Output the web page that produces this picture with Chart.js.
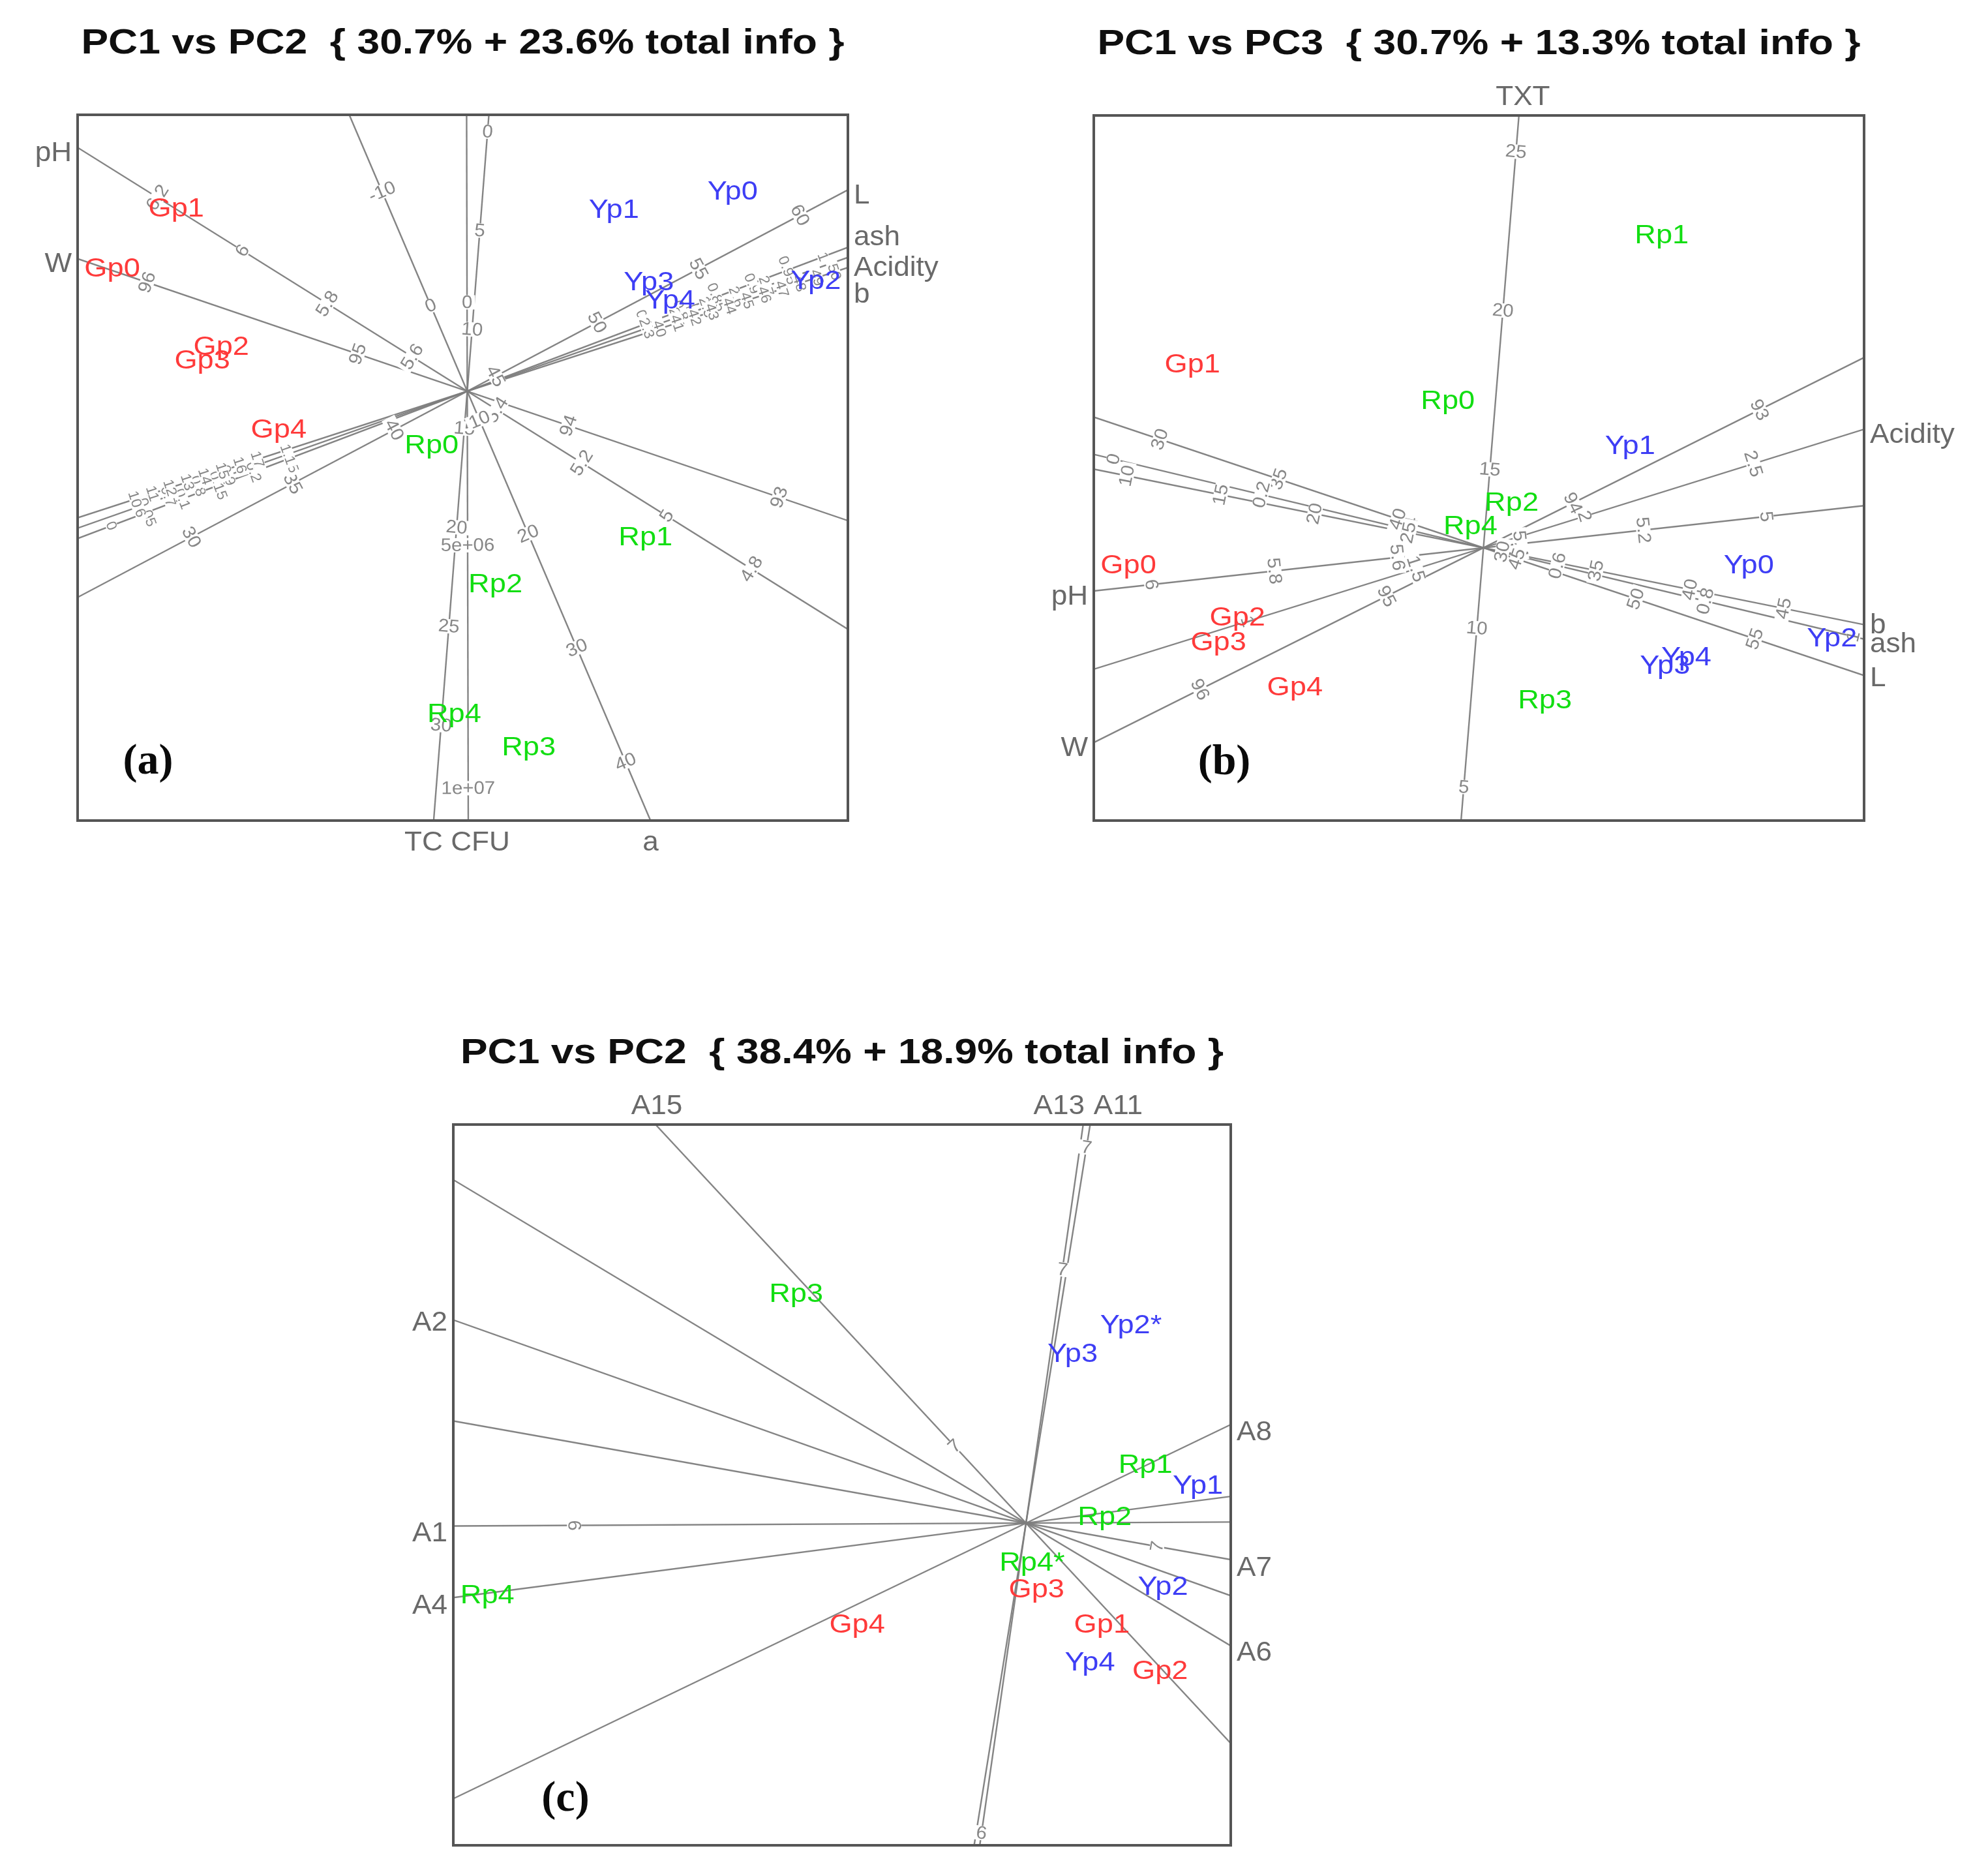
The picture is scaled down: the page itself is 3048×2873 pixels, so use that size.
<!DOCTYPE html>
<html><head><meta charset="utf-8">
<script src="https://cdn.jsdelivr.net/npm/chart.js@4.4.0/dist/chart.umd.min.js"></script>
<style>
html,body{margin:0;padding:0;background:#fff;}
body{width:3048px;height:2873px;position:relative;overflow:hidden;}
canvas{position:absolute;}
</style></head><body>
<canvas id="ca" width="1540" height="1400" style="left:0px;top:0px"></canvas>
<canvas id="cb" width="1508" height="1400" style="left:1540px;top:0px"></canvas>
<canvas id="cc" width="1700" height="1423" style="left:500px;top:1450px"></canvas>
<script>
// ---------------- DATA ----------------
const titleA = 'PC1 vs PC2  { 30.7% + 23.6% total info }';
const titleB = 'PC1 vs PC3  { 30.7% + 13.3% total info }';
const titleC = 'PC1 vs PC2  { 38.4% + 18.9% total info }';

const samplesAB = ['Gp0','Gp1','Gp2','Gp3','Gp4','Rp0','Rp1','Rp2','Rp3','Rp4','Yp0','Yp1','Yp2','Yp3','Yp4'];
const pc1AB = [-2.80,-2.295,-1.94,-2.09,-1.487,-0.281,1.406,0.222,0.485,-0.103,2.093,1.157,2.749,1.432,1.60];
const pc2A  = [0.96,1.435,0.345,0.235,-0.31,-0.435,-1.16,-1.53,-2.815,-2.55,1.567,1.425,0.865,0.855,0.71];
const pc3B  = [-0.145,1.44,-0.557,-0.752,-1.107,1.15,2.46,0.35,-1.21,0.166,-0.145,0.796,-0.719,-0.937,-0.868];

const samplesC = ['Rp3','Yp2*','Yp3','Rp1','Yp1','Rp2','Rp4*','Gp3','Yp2','Rp4','Gp4','Gp1','Yp4','Gp2'];
const pc1C = [-1.813,0.828,0.368,0.942,1.356,0.621,0.048,0.083,1.08,-4.248,-1.332,0.598,0.504,1.058];
const pc2C = [1.801,1.552,1.328,0.452,0.286,0.043,-0.318,-0.528,-0.508,-0.575,-0.806,-0.806,-1.105,-1.171];

// biplot variable axes, panel (a)
const varsA  = ['pH','W','L','ash','Acidity','b','TXT','TC CFU','a'];
const loadAx = [-3.073,-3.073,3.002,3.002,3.002,3.002,-0.265,0.008,1.445];
const loadAy = [1.922,1.045,1.588,1.135,1.055,0.975,-3.385,-3.386,-3.385];
const meanA  = [5.47,94.48,43.6,0.5,1.7,29,13.12,1.83e6,7.5];
const unitA  = [3.947,1.755,0.181,6,2.5,0.145,0.1565,3.832e-7,0.0978];
const ticksA = [
  [6.2,6,5.8,5.6,5.4,5.2,5,4.8],
  [96,95,94,93],
  [30,35,40,45,50,55,60],
  [0,0.05,0.1,0.15,0.2,0.25,0.75,0.8,0.85,0.9,0.95,1],
  [0.6,0.7,0.8,0.9,1,1.1,2.3,2.4,2.5,2.6,2.7],
  [10,11,12,13,14,15,16,17,40,41,42,43,44,45,46,47,48,49,50],
  [0,5,10,15,20,25,30,35],
  [0,5e6,1e7],
  [-10,0,10,20,30,40]
];

// panel (b)
const varsB  = ['TXT','W','pH','Acidity','L','ash','b'];
const loadBx = [0.28,-3.073,-3.073,3.002,3.002,3.002,3.002];
const loadBy = [3.41,-1.536,-0.34,0.935,-1.007,-0.72,-0.606];
const meanB  = [12.53,94.48,5.46,1.7,43.6,0.5,29];
const unitB  = [0.2514,1.644,4.88,2.786,0.198,6,0.151];
const ticksB = [
  [5,10,15,20,25],
  [96,95,94,93],
  [6,5.8,5.6,5.4,5.2,5],
  [1,1.5,2,2.5],
  [30,35,40,45,50,55],
  [0,0.2,0.4,0.6,0.8,1],
  [10,15,20,25,30,35,40,45]
];

// panel (c)
const varsC  = ['A1','A2','A4','A6','A7','A8','A11','A13','A15'];
const loadCx = [-4.517,-4.517,-4.517,1.615,1.615,1.615,0.506,0.451,-2.922];
const loadCy = [-0.023,1.602,-0.588,-0.968,-0.288,0.777,3.143,3.143,3.143];
const meanC  = [3.03,0,0,0,6.125,0,4.5,6.55,6.31];
const unitC  = [1.2,1,1,1,1.2,1,1.2,4.49,1.2];
const ticksC = [[6],[],[],[],[7],[],[7],[7,6],[7]];

// ---------------- LAYOUT / STYLE ----------------
const groupColor = {G:'rgb(255,58,58)', R:'rgb(18,222,18)', Y:'rgb(62,62,245)'};
const LINE_COLOR = 'rgba(125,125,125,0.95)';
const TICK_COLOR = 'rgb(135,135,135)';
const NAME_COLOR = 'rgb(105,105,105)';

const panels = [
  {canvas:'ca', title:titleA, letter:'(a)', letterOff:[108,-89],
   pad:{left:119,top:176,right:240,bottom:142}, xr:[-3.073,3.002], yr:[-3.386,2.18],
   names:samplesAB, px:pc1AB, py:pc2A,
   vars:varsA, lx:loadAx, ly:loadAy, mean:meanA, unit:unitA, ticks:ticksA,
   nudge:{ash:[0,-24],Acidity:[0,8],b:[0,33],'TC CFU':[-17,0]}, hide:['TXT'], denseFont:{ash:1,Acidity:1,b:1}},
  {canvas:'cb', title:titleB, letter:'(b)', letterOff:[200,-88],
   pad:{left:137,top:177,right:190,bottom:142}, xr:[-3.073,3.002], yr:[-2.151,3.41],
   names:samplesAB, px:pc1AB, py:pc3B,
   vars:varsB, lx:loadBx, ly:loadBy, mean:meanB, unit:unitB, ticks:ticksB,
   nudge:{TXT:[6,0],b:[0,-7],L:[0,-4]}, hide:[], denseFont:{}},
  {canvas:'cc', title:titleC, letter:'(c)', letterOff:[172,-70],
   pad:{left:195,top:274,right:313,bottom:44}, xr:[-4.517,1.615], yr:[-2.541,3.143],
   names:samplesC, px:pc1C, py:pc2C,
   vars:varsC, lx:loadCx, ly:loadCy, mean:meanC, unit:unitC, ticks:ticksC,
   nudge:{A2:[0,-4],A1:[0,3],A4:[0,4],A8:[0,3],A7:[0,4],A6:[0,2],A15:[2,0],A13:[-37,0],A11:[43,0]}, hide:[], denseFont:{}}
];

function clipT(ux, uy, xr, yr){
  const pos=[], neg=[];
  if (ux>0){pos.push(xr[1]/ux); neg.push(xr[0]/ux);} else if (ux<0){pos.push(xr[0]/ux); neg.push(xr[1]/ux);}
  if (uy>0){pos.push(yr[1]/uy); neg.push(yr[0]/uy);} else if (uy<0){pos.push(yr[0]/uy); neg.push(yr[1]/uy);}
  return [Math.max(...neg), Math.min(...pos)];
}
function fmt(v){
  if (Math.abs(v)>=1e5){
    const e=Math.floor(Math.log10(Math.abs(v)));
    const m=Math.round(v/Math.pow(10,e)*100)/100;
    return m+'e+'+String(e).padStart(2,'0');
  }
  return String(v);
}
function sText(ctx, txt, x, y, align, baseline, font, color, sx){
  ctx.save(); ctx.translate(x,y); ctx.scale(sx,1);
  ctx.font=font; ctx.textAlign=align; ctx.textBaseline=baseline; ctx.fillStyle=color;
  ctx.fillText(txt,0,0); ctx.restore();
}

function build(P){
  const ux=[], uy=[];
  P.lx.forEach((d,i)=>{const L=Math.hypot(P.lx[i],P.ly[i]); ux.push(P.lx[i]/L); uy.push(P.ly[i]/L);});
  const ends = ux.map((u,i)=>clipT(ux[i],uy[i],P.xr,P.yr));
  const datasets = P.vars.map((v,i)=>({
    type:'line', label:v,
    data:[{x:ends[i][0]*ux[i], y:ends[i][0]*uy[i]},{x:ends[i][1]*ux[i], y:ends[i][1]*uy[i]}],
    borderColor:LINE_COLOR, borderWidth:2.4, pointRadius:0, fill:false, tension:0, showLine:true
  }));
  datasets.push({type:'scatter', label:'samples',
    data:P.names.map((n,i)=>({x:P.px[i], y:P.py[i]})), pointRadius:0, pointHoverRadius:0});

  const plugin = {
    id:'biplot_'+P.canvas,
    afterDraw(chart){
      const ctx=chart.ctx, xs=chart.scales.x, ys=chart.scales.y, ca=chart.chartArea;
      const pix=(x,y)=>[xs.getPixelForValue(x), ys.getPixelForValue(y)];
      // tick labels
      P.vars.forEach((v,i)=>{
        const o=pix(0,0), e=pix(ux[i],uy[i]);
        let th=Math.atan2(e[1]-o[1], e[0]-o[0]);
        let rot=th+Math.PI/2;
        while (rot>Math.PI/2) rot-=Math.PI;
        while (rot<=-Math.PI/2) rot+=Math.PI;
        const dense = P.denseFont[v];
        const font = dense ? '22px "Liberation Sans"' : '28px "Liberation Sans"';
        P.ticks[i].forEach(tv=>{
          const t=(tv-P.mean[i])*P.unit[i];
          if (t<ends[i][0]||t>ends[i][1]) return;
          const p=pix(t*ux[i], t*uy[i]);
          const s=fmt(tv);
          ctx.save(); ctx.translate(p[0],p[1]); ctx.rotate(rot); ctx.scale(1.05,1);
          ctx.font=font; ctx.textAlign='center'; ctx.textBaseline='middle';
          const w=ctx.measureText(s).width;
          const h = dense?18:22;
          ctx.fillStyle='#fff'; ctx.fillRect(-w/2-4,-h/2,w+8,h);
          ctx.fillStyle=TICK_COLOR; ctx.fillText(s,0,1);
          ctx.restore();
        });
      });
      // variable names at labelled ends
      P.vars.forEach((v,i)=>{
        if (P.hide.includes(v)) return;
        const p=pix(ends[i][1]*ux[i], ends[i][1]*uy[i]);
        const n=P.nudge[v]||[0,0];
        const f='42px "Liberation Sans"';
        if (Math.abs(p[0]-ca.left)<2) sText(ctx,v,ca.left-9+n[0],p[1]+9+n[1],'right','middle',f,NAME_COLOR,1.05);
        else if (Math.abs(p[0]-ca.right)<2) sText(ctx,v,ca.right+9+n[0],p[1]+9+n[1],'left','middle',f,NAME_COLOR,1.05);
        else if (Math.abs(p[1]-ca.top)<2) sText(ctx,v,p[0]+n[0],ca.top-16+n[1],'center','alphabetic',f,NAME_COLOR,1.05);
        else sText(ctx,v,p[0]+n[0],ca.bottom+46+n[1],'center','alphabetic',f,NAME_COLOR,1.05);
      });
      // sample labels
      const meta=chart.getDatasetMeta(chart.data.datasets.length-1);
      meta.data.forEach((el,i)=>{
        const name=P.names[i];
        sText(ctx,name,el.x,el.y,'center','middle','40px "Liberation Sans"',groupColor[name[0]],1.13);
      });
      // frame
      ctx.save(); ctx.strokeStyle='rgb(85,85,85)'; ctx.lineWidth=4;
      ctx.strokeRect(ca.left,ca.top,ca.right-ca.left,ca.bottom-ca.top); ctx.restore();
      // title
      ctx.save(); ctx.font='bold 54px "Liberation Sans"';
      const tw=ctx.measureText(P.title).width; ctx.restore();
      sText(ctx,P.title,(ca.left+ca.right)/2, ca.top-109,'center','middle','bold 54px "Liberation Sans"','rgb(15,15,15)',1170/tw);
      // panel letter
      sText(ctx,P.letter,ca.left+P.letterOff[0],ca.bottom+P.letterOff[1],'center','middle','bold 66px "Liberation Serif"','rgb(10,10,10)',1);
    }
  };

  new Chart(document.getElementById(P.canvas), {
    type:'scatter',
    data:{datasets},
    options:{
      responsive:false, maintainAspectRatio:false, animation:false, events:[],
      layout:{padding:P.pad},
      scales:{
        x:{type:'linear', min:P.xr[0], max:P.xr[1], display:false},
        y:{type:'linear', min:P.yr[0], max:P.yr[1], display:false}
      },
      plugins:{legend:{display:false}, tooltip:{enabled:false}, title:{display:false}}
    },
    plugins:[plugin]
  });
}
panels.forEach(build);
</script>
</body></html>
